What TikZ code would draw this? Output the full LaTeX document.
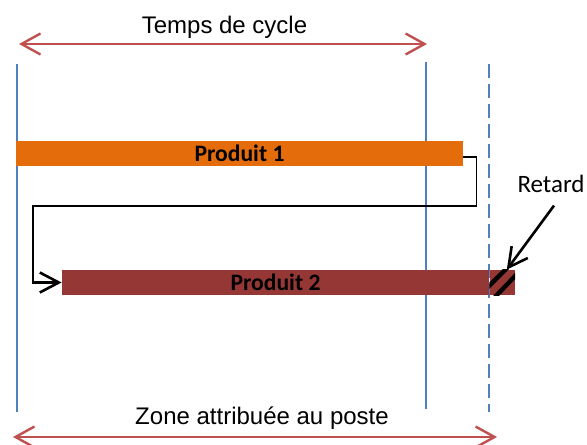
\documentclass[tikz,border=0pt]{standalone}
\usepackage{fontspec}
\setmainfont{Liberation Sans}
\newfontfamily\calibri{Carlito}
\usetikzlibrary{arrows.meta,positioning}
\definecolor{myorange}{RGB}{228,108,10}
\definecolor{myred}{RGB}{149,55,53}
\definecolor{myarrow}{RGB}{192,80,77}
\definecolor{myblue}{RGB}{79,129,189}

\begin{document}
\begin{tikzpicture}[x=0.5pt,y=-0.5pt,inner sep=0pt]
\tikzstyle{bar}=[rectangle, minimum height=12.5pt, font=\calibri\bfseries\fontsize{11.8}{14}\selectfont]
\tikzstyle{dimtext}=[font=\fontsize{12}{14}\selectfont, anchor=base]
\tikzstyle{guide}=[myblue, line width=0.7pt]
\tikzstyle{dimline}=[myarrow, line width=1.2pt, {Straight Barb[length=9.5pt,width=10.5pt]}-{Straight Barb[length=9.5pt,width=10.5pt]}]
\tikzstyle{connect}=[-{Straight Barb[length=9.5pt,width=10pt]}, line width=1.3pt]
\useasboundingbox (0,0) rectangle (587,444);
% station limits
\draw[guide] (17,64) -- (17,412);
\draw[guide] (426,62) -- (426,409);
\draw[guide, dash pattern=on 7pt off 3pt] (489,64) -- (489,412);
% dimensions
\node[dimtext] (cycle) at (224.5,34) {Temps de cycle};
\node[dimtext] (zone) at (262,424) {Zone attribuée au poste};
\coordinate (ct1) at (19,44);
\coordinate (ct2) at (427,44);
\coordinate (zn1) at (13,437);
\coordinate (zn2) at (497,437);
\draw[dimline] (ct1) -- (ct2);
\draw[dimline] (zn1) -- (zn2);
% products
\node[bar, fill=myorange, minimum width=223.5pt] (p1) at (239.5,153.5) {Produit 1};
\node[bar, fill=myred, minimum width=213.5pt] (p2) at (275.5,282.5) {Produit 2};
\node[bar, fill=myred, minimum width=12.5pt, right=0pt of p2] (late) {};
\begin{scope}
\clip (late.south west) rectangle (late.north east);
\draw[line width=2.2pt] (485,290) -- (509,266);
\draw[line width=2.2pt] (495,297) -- (517,274);
\end{scope}
% flow
\coordinate (split) at (237,206);
\coordinate (back) at (33,206);
\draw[line width=0.7pt] ([yshift=-1.75pt]p1.east) -- ++(13,0) |- (split);
\draw[connect] (split) -- (back) |- (p2.west);
% delay
\node[font=\calibri\fontsize{12.5}{15}\selectfont, anchor=base] (ret) at (551,192) {Retard};
\draw[connect] ([shift={(1.5pt,-6.5pt)}]ret.south) -- ([xshift=2.25pt]late.north);
\end{tikzpicture}
\end{document}
